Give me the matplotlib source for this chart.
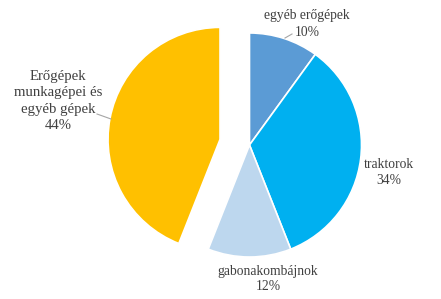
import matplotlib
matplotlib.use("Agg")
import matplotlib.pyplot as plt

categories = ["egyéb erőgépek", "traktorok", "gabonakombájnok", "Erőgépek\nmunkagépei és\negyéb gépek"]
values = [10, 34, 12, 44]
colors = ["#5B9BD5", "#00B0F0", "#BDD7EE", "#FFC000"]
explode = [0, 0, 0, 30]

W, H = 441, 299
fig = plt.figure(figsize=(W / 100, H / 100), dpi=100)
ax = fig.add_axes([0, 0, 1, 1])

cx, cy, r = 249.5, H - 145, 112
ax.pie(values, colors=colors, explode=explode, startangle=90, counterclock=False,
       center=(cx, cy), radius=r, frame=True,
       wedgeprops=dict(edgecolor="white", linewidth=1.2))
ax.set_xlim(0, W)
ax.set_ylim(0, H)
ax.axis("off")

font = ["Liberation Serif", "DejaVu Serif"]
tc = "#404040"
label_pos = [(307, 24, 9.8, 1.3), (389, 172, 9.8, 1.3), (268, 279, 9.8, 1.3), (58, 101, 10.6, 1.36)]
for cat, val, (x, y, fs, ls) in zip(categories, values, label_pos):
    ax.text(x, H - y, f"{cat}\n{val}%", ha="center", va="center", fontsize=fs,
            family=font, color=tc, linespacing=ls)

# leader lines
ax.plot([285, 292], [H - 38, H - 34], color="#A6A6A6", lw=0.8)
ax.plot([97, 111], [H - 114, H - 119], color="#A6A6A6", lw=0.8)

fig.savefig("out.png", dpi=100)
